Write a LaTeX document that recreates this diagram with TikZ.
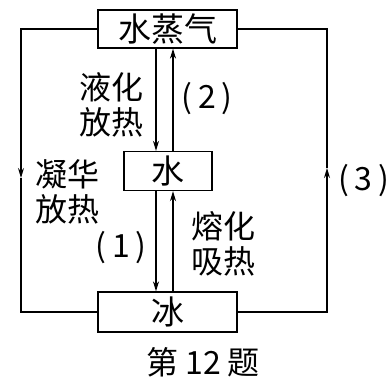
\documentclass[tikz,border=0pt]{standalone}
\usepackage{fontspec}
\newfontfamily\cjk{Noto Sans CJK SC}
\usepackage{tikz}
\usetikzlibrary{positioning,arrows.meta,calc}
\newcommand{\stepno}[1]{(\hspace{0.18em}#1\hspace{0.18em})}

\begin{document}
\begin{tikzpicture}[x=1pt,y=-1pt,
    state/.style={draw,line width=1.3pt,inner sep=0pt,font=\cjk\fontsize{33}{36}\selectfont},
    lbl/.style={align=center,inner sep=0pt,font=\cjk\fontsize{32}{35}\selectfont},
    >={Stealth[length=10pt,width=6pt]},
    line width=1.3pt]
  \useasboundingbox (0,0) rectangle (391,378);
  \node[state,minimum width=139pt,minimum height=38pt] (vapor) at (167.5,29) {水蒸气};
  \node[state,minimum width=88pt,minimum height=39pt] (water) at (168,171) {水};
  \node[state,minimum width=139pt,minimum height=40pt] (ice) at (167.5,312) {冰};
  \coordinate (lmid) at (21,178);
  \coordinate (rmid) at (327,168);
  % outer loop
  \draw[->] (vapor.west) -| (lmid);
  \draw (lmid) |- (ice.west);
  \draw[->] (ice.east) -| (rmid);
  \draw (rmid) |- (vapor.east);
  % inner arrows
  \draw[->] ([xshift=-11.5pt]vapor.south) -- ([xshift=-11.5pt]vapor.south |- water.north);
  \draw[->] ([xshift=5.5pt]vapor.south |- water.north) -- ([xshift=5.5pt]vapor.south);
  \draw[->] ([xshift=-12pt]water.south) -- ([xshift=-12pt]water.south |- ice.north);
  \draw[->] ([xshift=5pt]water.south |- ice.north) -- ([xshift=5pt]water.south);
  % labels
  \node[lbl] (liq) at (111,105) {液化\\放热};
  \node[lbl] (n2) at (207,99) {\stepno{2}};
  \node[lbl] (dep) at (67,192) {凝华\\放热};
  \node[lbl] (n1) at (121,248) {\stepno{1}};
  \node[lbl] (melt) at (223,244) {熔化\\吸热};
  \node[lbl,anchor=east] (n3) at (390,181) {\stepno{3}};
  \node[lbl] (cap) at (203,362) {第 12 题};
\end{tikzpicture}
\end{document}
